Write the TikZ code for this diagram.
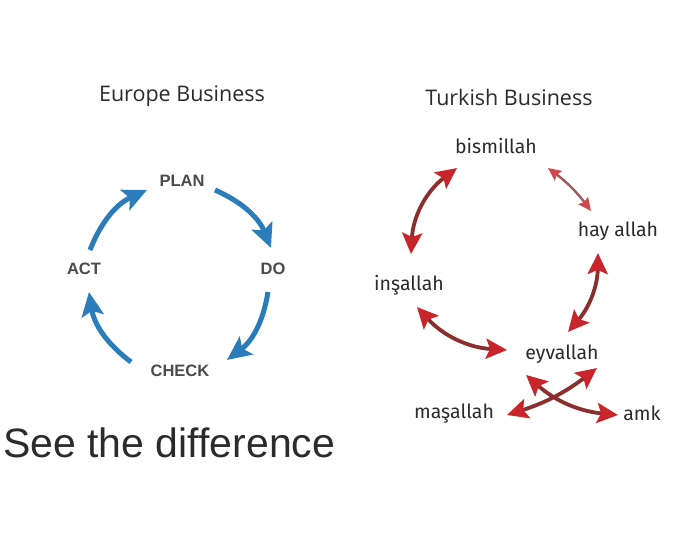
\documentclass[tikz,border=0pt]{standalone}
\usepackage{fontspec}
\setmainfont{Liberation Sans}
\newfontfamily\titlefont{Open Sans}
\newfontfamily\trfont{Fira Sans}
\usetikzlibrary{arrows.meta}
\definecolor{eublue}{HTML}{2A7DBA}
\definecolor{trred}{HTML}{C8262A}
\definecolor{trshaft}{HTML}{8A2E2E}
\definecolor{txt}{HTML}{2B2B2B}
\tikzset{
  title/.style={font=\titlefont\fontsize{21.5}{25}\selectfont, text=txt, inner sep=0pt},
  pdca/.style={font=\bfseries\fontsize{16.5}{19}\selectfont, text=txt!85, inner sep=0pt},
  trlabel/.style={font=\trfont\fontsize{19.5}{23}\selectfont, text=txt, inner sep=0pt},
  bluearrow/.style={draw=eublue, line width=5pt, -{Stealth[length=24pt,width=22pt,inset=5pt]}},
  redarrow/.style={draw=trshaft, line width=3.8pt, {Stealth[length=21pt,width=20pt,inset=4pt,color=trred]}-{Stealth[length=21pt,width=20pt,inset=4pt,color=trred]}},
  thinred/.style={draw=trshaft!80, line width=2.4pt, {Stealth[length=13pt,width=12pt,inset=2pt,color=trred!85]}-{Stealth[length=13pt,width=12pt,inset=2pt,color=trred!85]}},
}
\begin{document}
\begin{tikzpicture}[x=1pt,y=1pt]
\useasboundingbox (0,0) rectangle (680,-534);
\fill[white] (0,0) rectangle (680,-534);
% titles
\node[title] (eu) at (182,-96) {Europe Business};
\node[title] (tr) at (509,-97) {Turkish Business};
% PDCA
\node[pdca] (plan) at (182,-181) {PLAN};
\node[pdca] (do) at (273,-269) {DO};
\node[pdca] (check) at (180,-371) {CHECK};
\node[pdca] (act) at (84,-269) {ACT};
\coordinate (a1) at (90,-250);
\coordinate (a2) at (147,-190);
\coordinate (b1) at (215,-190);
\coordinate (b2) at (271,-248);
\coordinate (c1) at (268,-292);
\coordinate (c2) at (227,-360);
\coordinate (d1) at (131,-362);
\coordinate (d2) at (89,-292);
\draw[bluearrow] (a1) to[bend left=22] (a2);
\draw[bluearrow] (b1) to[bend left=22] (b2);
\draw[bluearrow] (c1) to[bend left=22] (c2);
\draw[bluearrow] (d1) to[bend left=22] (d2);
% Turkish
\node[trlabel] (bis) at (496,-146) {bismillah};
\node[trlabel] (hay) at (618,-231) {hay allah};
\node[trlabel] (ins) at (409,-285) {inşallah};
\node[trlabel] (eyv) at (562,-354) {eyvallah};
\node[trlabel] (mas) at (454,-414) {maşallah};
\node[trlabel] (amk) at (642,-413) {amk};
\coordinate (p1) at (411,-254);
\coordinate (p2) at (457,-168);
\coordinate (q1) at (548,-168);
\coordinate (q2) at (591,-211);
\coordinate (r1) at (568,-332);
\coordinate (r2) at (598,-253);
\coordinate (s1) at (417,-307);
\coordinate (s2) at (507,-350);
\coordinate (t1) at (507,-415);
\coordinate (t2) at (597,-368);
\coordinate (u1) at (526,-375);
\coordinate (u2) at (618,-415);
\draw[redarrow] (p1) to[bend left=25] (p2);
\draw[thinred] (q1) to[bend left=8] (q2);
\draw[redarrow] (r1) to[bend right=20] (r2);
\draw[redarrow] (s1) to[bend right=22] (s2);
\draw[redarrow] (t1) to[bend right=10] (t2);
\draw[redarrow] (u1) to[bend right=18] (u2);
% caption
\node[font=\fontsize{41}{46}\selectfont, text=txt, anchor=base west, inner sep=0pt] (see) at (3,-457) {See the difference};
\end{tikzpicture}
\end{document}
